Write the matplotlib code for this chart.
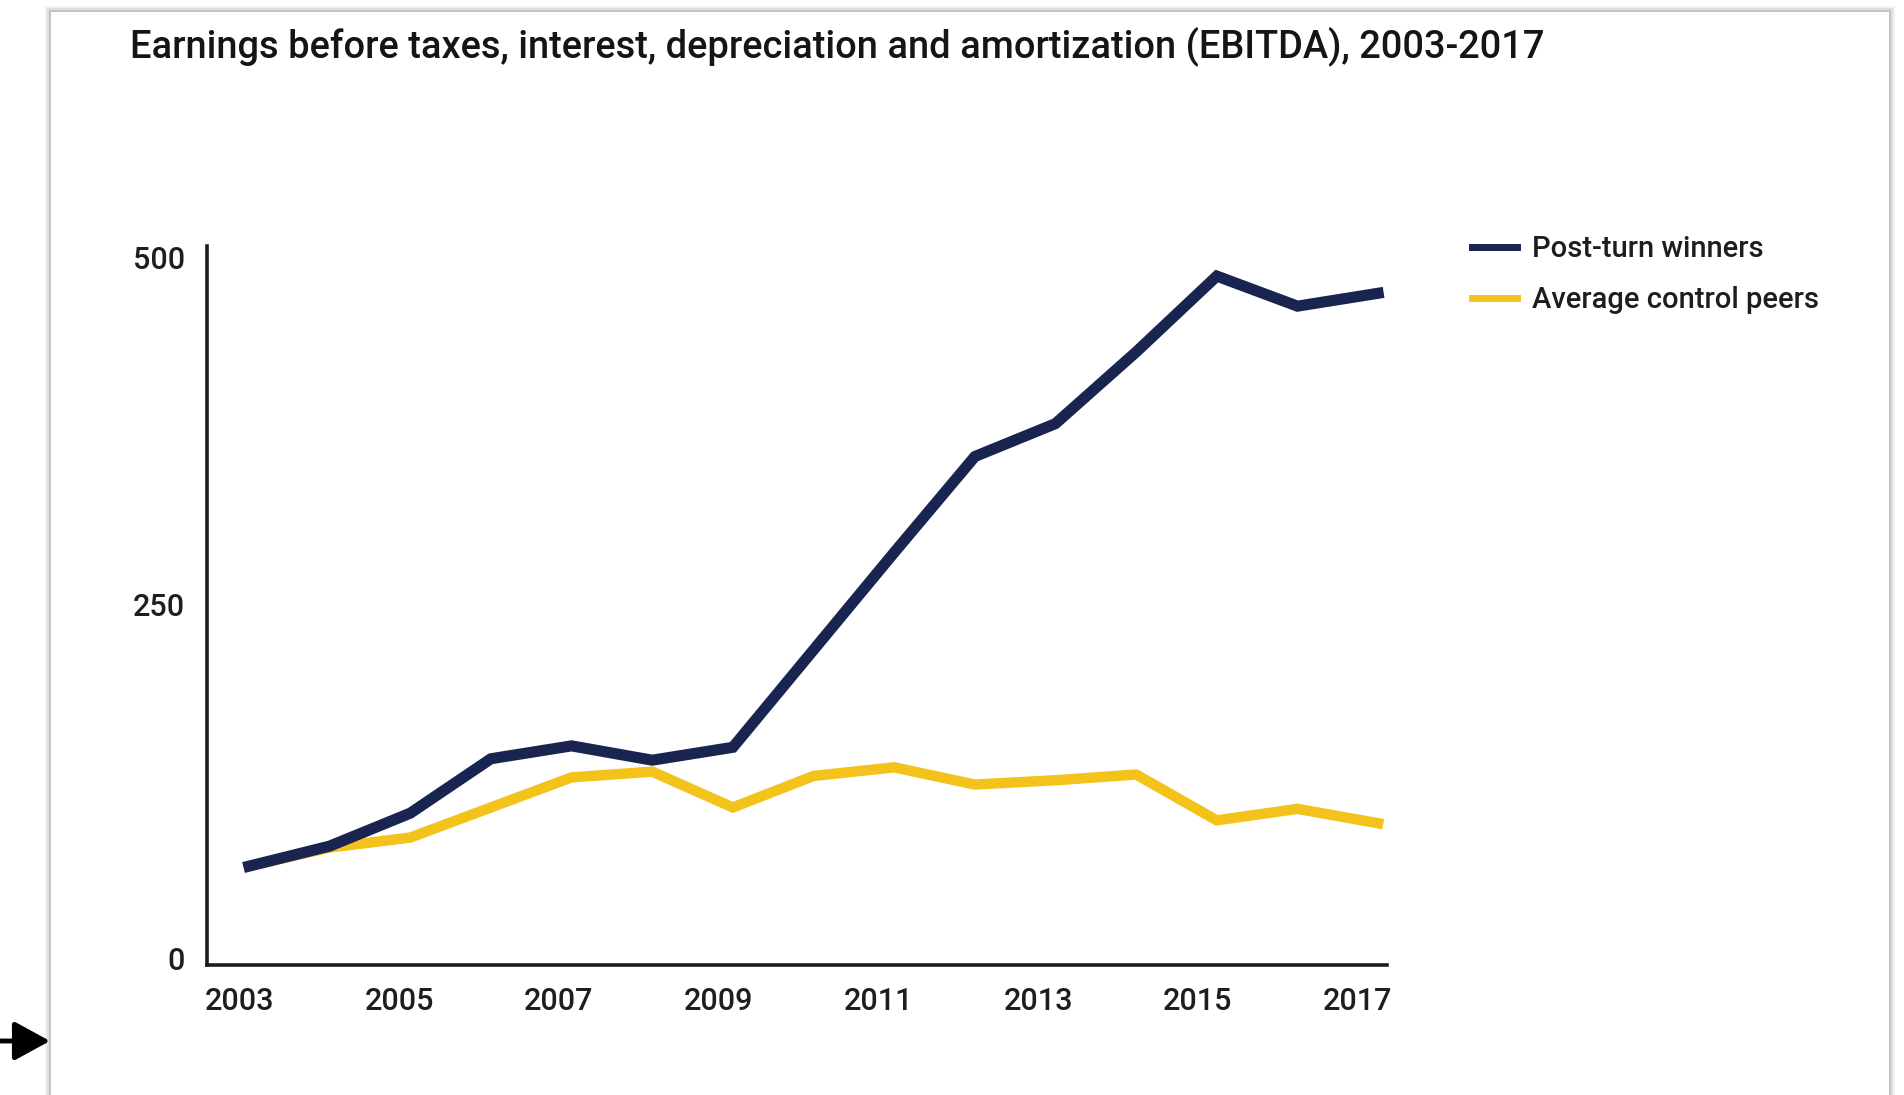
import matplotlib.pyplot as plt
import matplotlib.patches as mpatches
from matplotlib.transforms import ScaledTranslation

years = list(range(2003, 2018))
winners = [69, 83, 106, 144, 153, 143, 152, 220, 288, 355, 378, 428, 481, 460, 469]
peers = [69, 82, 89, 110, 131, 135, 110, 132, 138, 126, 129, 133, 101, 109, 99]
x_ticks = [2003, 2005, 2007, 2009, 2011, 2013, 2015, 2017]
y_ticks = [0, 250, 500]
title = "Earnings before taxes, interest, depreciation and amortization (EBITDA), 2003-2017"
labels = ["Post-turn winners", "Average control peers"]

navy = "#1a2450"
gold = "#f3c31c"

plt.rcParams['font.family'] = ['Roboto', 'DejaVu Sans']

W, H = 1904, 1095
fig = plt.figure(figsize=(W / 100, H / 100), dpi=100)
fig.patch.set_facecolor("white")

# card with soft shadow
for i, a in enumerate([0.05, 0.08, 0.12]):
    off = (3 - i) * 2
    fig.patches.append(mpatches.Rectangle((51 / W - off / W, 0), (1838 + 2 * off) / W, 1 - 12 / H + off / H,
                                          transform=fig.transFigure, facecolor="black", alpha=a,
                                          edgecolor="none", zorder=0))
fig.patches.append(mpatches.Rectangle((51 / W, 0), 1838 / W, 1 - 12 / H, transform=fig.transFigure,
                                      facecolor="white", edgecolor="none", zorder=1))

fig.text(130 / W, 1 - 46 / H, title, fontsize=27.4, fontweight='medium', color="#151515",
         ha='left', va='center', zorder=3)

ax = fig.add_axes([207 / W, 1 - 965 / H, 1180 / W, 719 / H])
ax.set_facecolor("none")
ax.set_zorder(2)
ax.plot(years, peers, color=gold, lw=7.5, solid_joinstyle='miter', label=labels[1], zorder=2)
ax.plot(years, winners, color=navy, lw=8, solid_joinstyle='miter', label=labels[0], zorder=3)

ax.set_xlim(2002.48, 2017.11)
ax.set_ylim(0, 502)
ax.set_xticks(x_ticks)
ax.set_yticks(y_ticks)
ax.tick_params(length=0, labelsize=22, colors="#1e1e1e")
ax.tick_params(axis='x', pad=16)
ax.tick_params(axis='y', pad=16)
for lab in ax.get_xticklabels() + ax.get_yticklabels():
    lab.set_fontweight('medium')
# year labels sit a little left of their data points, more so towards the right
for i, lab in enumerate(ax.get_xticklabels()):
    dx = -9.5 - 1.6 * i
    lab.set_transform(lab.get_transform() + ScaledTranslation(dx / 100, 0, fig.dpi_scale_trans))
for lab, dy in zip(ax.get_yticklabels(), [7, 2, -9]):
    lab.set_transform(lab.get_transform() + ScaledTranslation(0, dy / 100, fig.dpi_scale_trans))
for s in ['top', 'right']:
    ax.spines[s].set_visible(False)
for s in ['left', 'bottom']:
    ax.spines[s].set_linewidth(2.6)
    ax.spines[s].set_color("#1c1c1c")

h, l = ax.get_legend_handles_labels()
leg = ax.legend(h[::-1], l[::-1], loc='upper left', bbox_to_anchor=(1472 / W, 1 - 235 / H),
                bbox_transform=fig.transFigure, frameon=False, fontsize=21, handlelength=1.55,
                handletextpad=0.5, labelspacing=0.78, borderpad=0, borderaxespad=0)
for line in leg.get_lines():
    line.set_linewidth(5)
for t in leg.get_texts():
    t.set_color("#1e1e1e")
    t.set_fontweight('medium')

ax.annotate('', xy=(50 / W, 1 - 1041 / H), xytext=(0, 1 - 1041 / H), xycoords='figure fraction',
            arrowprops=dict(arrowstyle='-|>,head_length=0.55,head_width=0.3', color='black',
                            lw=3.5, mutation_scale=40, shrinkA=0, shrinkB=0))

fig.savefig("out.png", dpi=100)
